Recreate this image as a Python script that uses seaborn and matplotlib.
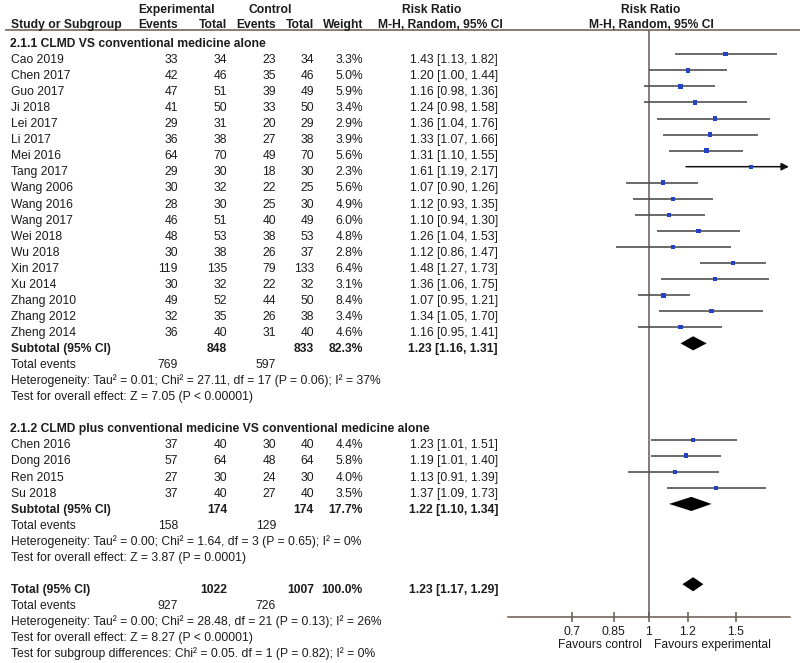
import numpy as np
import pandas as pd
import seaborn as sns
import matplotlib.pyplot as plt

# ---- values ----
g1_title = "2.1.1 CLMD VS conventional medicine alone"
g1_study = ["Cao 2019", "Chen 2017", "Guo 2017", "Ji 2018", "Lei 2017", "Li 2017",
            "Mei 2016", "Tang 2017", "Wang 2006", "Wang 2016", "Wang 2017", "Wei 2018",
            "Wu 2018", "Xin 2017", "Xu 2014", "Zhang 2010", "Zhang 2012", "Zheng 2014"]
g1_exp_events = [33, 42, 47, 41, 29, 36, 64, 29, 30, 28, 46, 48, 30, 119, 30, 49, 32, 36]
g1_exp_total = [34, 46, 51, 50, 31, 38, 70, 30, 32, 30, 51, 53, 38, 135, 32, 52, 35, 40]
g1_ctl_events = [23, 35, 39, 33, 20, 27, 49, 18, 22, 25, 40, 38, 26, 79, 22, 44, 26, 31]
g1_ctl_total = [34, 46, 49, 50, 29, 38, 70, 30, 25, 30, 49, 53, 37, 133, 32, 50, 38, 40]
g1_weight = [3.3, 5.0, 5.9, 3.4, 2.9, 3.9, 5.6, 2.3, 5.6, 4.9, 6.0, 4.8, 2.8, 6.4, 3.1, 8.4, 3.4, 4.6]
g1_rr = [1.43, 1.20, 1.16, 1.24, 1.36, 1.33, 1.31, 1.61, 1.07, 1.12, 1.10, 1.26, 1.12, 1.48, 1.36, 1.07, 1.34, 1.16]
g1_lo = [1.13, 1.00, 0.98, 0.98, 1.04, 1.07, 1.10, 1.19, 0.90, 0.93, 0.94, 1.04, 0.86, 1.27, 1.06, 0.95, 1.05, 0.95]
g1_hi = [1.82, 1.44, 1.36, 1.58, 1.76, 1.66, 1.55, 2.17, 1.26, 1.35, 1.30, 1.53, 1.47, 1.73, 1.75, 1.21, 1.70, 1.41]
g1_sub = dict(exp_total=848, ctl_total=833, weight=82.3, rr=1.23, lo=1.16, hi=1.31,
              exp_events=769, ctl_events=597)
g1_het = "Heterogeneity: Tau² = 0.01; Chi² = 27.11, df = 17 (P = 0.06); I² = 37%"
g1_test = "Test for overall effect: Z = 7.05 (P < 0.00001)"

g2_title = "2.1.2 CLMD plus conventional medicine VS conventional medicine alone"
g2_study = ["Chen 2016", "Dong 2016", "Ren 2015", "Su 2018"]
g2_exp_events = [37, 57, 27, 37]
g2_exp_total = [40, 64, 30, 40]
g2_ctl_events = [30, 48, 24, 27]
g2_ctl_total = [40, 64, 30, 40]
g2_weight = [4.4, 5.8, 4.0, 3.5]
g2_rr = [1.23, 1.19, 1.13, 1.37]
g2_lo = [1.01, 1.01, 0.91, 1.09]
g2_hi = [1.51, 1.40, 1.39, 1.73]
g2_sub = dict(exp_total=174, ctl_total=174, weight=17.7, rr=1.22, lo=1.10, hi=1.34,
              exp_events=158, ctl_events=129)
g2_het = "Heterogeneity: Tau² = 0.00; Chi² = 1.64, df = 3 (P = 0.65); I² = 0%"
g2_test = "Test for overall effect: Z = 3.87 (P = 0.0001)"

overall = dict(exp_total=1022, ctl_total=1007, weight=100.0, rr=1.23, lo=1.17, hi=1.29,
               exp_events=927, ctl_events=726)
overall_het = "Heterogeneity: Tau² = 0.00; Chi² = 28.48, df = 21 (P = 0.13); I² = 26%"
overall_test = "Test for overall effect: Z = 8.27 (P < 0.00001)"
subgroup_test = "Test for subgroup differences: Chi² = 0.05. df = 1 (P = 0.82); I² = 0%"

ticks = [0.7, 0.85, 1, 1.2, 1.5]
tick_labels = ["0.7", "0.85", "1", "1.2", "1.5"]

# ---- style ----
sns.set_style("white")
plt.rcParams["font.family"] = ["Liberation Sans", "DejaVu Sans"]
TXT = "#1c1c1c"
LINE = "#505050"
AXC = "#6b584e"
BLUE = "#2342c4"
FS = 8.7

fig = plt.figure(figsize=(8, 6.63), dpi=100)

# text panel covering the whole figure, x in pixels, y in rows
tax = fig.add_axes([0, 0, 1, 1])
tax.set_xlim(0, 800)
tax.set_ylim(40.9, -0.38)
tax.axis("off")

# forest panel, log scale
fax = fig.add_axes([508 / 800, (663 - 617) / 663, 282 / 800, (617 - 29.5) / 663])
fax.set_xscale("log")

col = dict(study=11, ee=178, et=227, ce=276, ct=314, w=363, rr=498)


def put(x, row, s, ha="left", bold=False):
    tax.text(x, row + 0.54, s, ha=ha, va="baseline", fontsize=FS, color=TXT,
             fontweight="bold" if bold else "normal")


# headers
tax.text(177, 0.41, "Experimental", ha="center", va="baseline", fontsize=FS, fontweight="bold", color=TXT)
tax.text(270, 0.41, "Control", ha="center", va="baseline", fontsize=FS, fontweight="bold", color=TXT)
tax.text(432, 0.41, "Risk Ratio", ha="center", va="baseline", fontsize=FS, fontweight="bold", color=TXT)
tax.text(651, 0.41, "Risk Ratio", ha="center", va="baseline", fontsize=FS, fontweight="bold", color=TXT)
for x, s, ha in [(col["study"], "Study or Subgroup", "left"), (col["ee"], "Events", "right"),
                 (col["et"], "Total", "right"), (col["ce"], "Events", "right"),
                 (col["ct"], "Total", "right"), (col["w"], "Weight", "right"),
                 (440, "M-H, Random, 95% CI", "center"), (651, "M-H, Random, 95% CI", "center")]:
    tax.text(x, 1.36, s, ha=ha, va="baseline", fontsize=FS, fontweight="bold", color=TXT)
tax.plot([5, 800], [1.457, 1.457], color=AXC, lw=1.1, solid_capstyle="butt")

# ---- build rows ----
study_rows = []
diamonds = []
row = 2
for title, st, ee, et, ce, ct, w, rr, lo, hi, sub, het, test in [
        (g1_title, g1_study, g1_exp_events, g1_exp_total, g1_ctl_events, g1_ctl_total,
         g1_weight, g1_rr, g1_lo, g1_hi, g1_sub, g1_het, g1_test),
        (g2_title, g2_study, g2_exp_events, g2_exp_total, g2_ctl_events, g2_ctl_total,
         g2_weight, g2_rr, g2_lo, g2_hi, g2_sub, g2_het, g2_test)]:
    put(col["study"] - 1, row, title, bold=True)
    row += 1
    for i in range(len(st)):
        put(col["study"], row, st[i])
        put(col["ee"], row, str(ee[i]), "right")
        put(col["et"], row, str(et[i]), "right")
        put(col["ce"], row, str(ce[i]), "right")
        put(col["ct"], row, str(ct[i]), "right")
        put(col["w"], row, f"{w[i]:.1f}%", "right")
        put(col["rr"], row, f"{rr[i]:.2f} [{lo[i]:.2f}, {hi[i]:.2f}]", "right")
        study_rows.append(dict(row=row, rr=rr[i], lo=lo[i], hi=hi[i], weight=w[i]))
        row += 1
    put(col["study"], row, "Subtotal (95% CI)", bold=True)
    put(col["et"], row, str(sub["exp_total"]), "right", True)
    put(col["ct"], row, str(sub["ctl_total"]), "right", True)
    put(col["w"], row, f"{sub['weight']:.1f}%", "right", True)
    put(col["rr"], row, f"{sub['rr']:.2f} [{sub['lo']:.2f}, {sub['hi']:.2f}]", "right", True)
    diamonds.append((row, sub["rr"], sub["lo"], sub["hi"]))
    row += 1
    put(col["study"], row, "Total events")
    put(col["ee"], row, str(sub["exp_events"]), "right")
    put(col["ce"], row, str(sub["ctl_events"]), "right")
    row += 1
    put(col["study"], row, het)
    row += 1
    put(col["study"], row, test)
    row += 2

put(col["study"], row, "Total (95% CI)", bold=True)
put(col["et"], row, str(overall["exp_total"]), "right", True)
put(col["ct"], row, str(overall["ctl_total"]), "right", True)
put(col["w"], row, f"{overall['weight']:.1f}%", "right", True)
put(col["rr"], row, f"{overall['rr']:.2f} [{overall['lo']:.2f}, {overall['hi']:.2f}]", "right", True)
diamonds.append((row, overall["rr"], overall["lo"], overall["hi"]))
row += 1
put(col["study"], row, "Total events")
put(col["ee"], row, str(overall["exp_events"]), "right")
put(col["ce"], row, str(overall["ctl_events"]), "right")
row += 1
put(col["study"], row, overall_het)
row += 1
put(col["study"], row, overall_test)
row += 1
put(col["study"], row, subgroup_test)

# ---- forest panel ----
XMIN, XMAX = 0.52, 1.93
df = pd.DataFrame(study_rows)
for _, r in df.iterrows():
    if r["hi"] > XMAX:
        fax.annotate("", xy=(XMAX * 0.995, r["row"]), xytext=(r["lo"], r["row"]),
                     arrowprops=dict(arrowstyle="-|>", color="#111111", lw=1.1,
                                     mutation_scale=11, shrinkA=0, shrinkB=0))
    else:
        fax.plot([max(r["lo"], XMIN), r["hi"]], [r["row"], r["row"]], color=LINE, lw=1.2,
                 solid_capstyle="butt")
sns.scatterplot(data=df, x="rr", y="row", size="weight", sizes=(8, 13), marker="s",
                color=BLUE, edgecolor="none", legend=False, ax=fax, zorder=3)
for r, est, lo, hi in diamonds:
    fax.fill([lo, est, hi, est], [r, r - 0.44, r, r + 0.44], color="black", lw=0)

fax.axvline(1, color=AXC, lw=1.1, zorder=1)
fax.set_xlim(XMIN, XMAX)
fax.set_ylim(38.04, 1.457)
for s in ["left", "top", "right"]:
    fax.spines[s].set_visible(False)
fax.spines["bottom"].set_color(AXC)
fax.spines["bottom"].set_linewidth(1.1)
fax.set_xticks(ticks)
fax.set_xticklabels(tick_labels)
fax.minorticks_off()
fax.set_yticks([])
fax.set_xlabel("")
fax.set_ylabel("")
fax.tick_params(axis="x", direction="inout", length=7, width=1.1, color=AXC,
                labelsize=FS, labelcolor=TXT, pad=3, bottom=True)
fax.patch.set_alpha(0)

tax.text(642, 39.97, "Favours control", ha="right", va="baseline", fontsize=FS, color=TXT)
tax.text(654, 39.97, "Favours experimental", ha="left", va="baseline", fontsize=FS, color=TXT)

plt.savefig("out.png", dpi=100)
